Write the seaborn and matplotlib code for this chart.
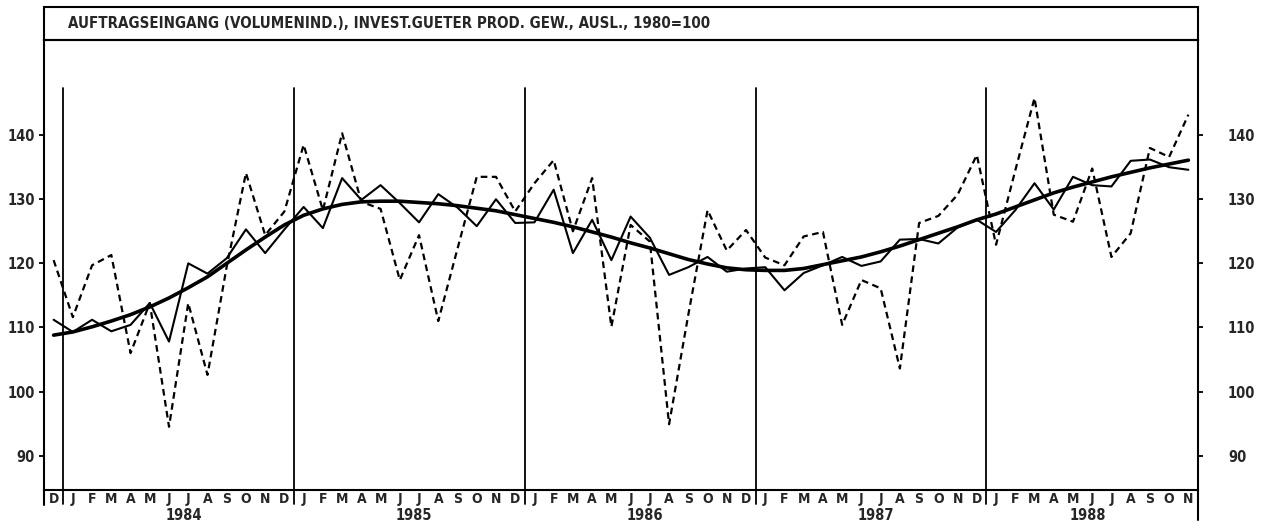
import numpy as np
import pandas as pd
import matplotlib
matplotlib.use("Agg")
import matplotlib.pyplot as plt
import seaborn as sns
from matplotlib.transforms import blended_transform_factory
from matplotlib.lines import Line2D
from matplotlib.patches import Rectangle

# ---- data: monthly values Dec 1983 .. Nov 1988 ----
title = "AUFTRAGSEINGANG (VOLUMENIND.), INVEST.GUETER PROD. GEW., AUSL., 1980=100"
years = ["1984", "1985", "1986", "1987", "1988"]
month_labels = ["D"] + list("JFMAMJJASOND") * 4 + list("JFMAMJJASON")
y_ticks = [90, 100, 110, 120, 130, 140]

# original series (dashed)
original = [120.5,
            111.6, 119.7, 121.3, 106.0, 113.8, 94.5, 113.8, 102.6, 119.5, 134.1, 124.4, 128.1,
            138.5, 128.3, 140.3, 129.6, 128.5, 117.4, 124.4, 111.0, 122.3, 133.5, 133.5, 128.1,
            132.5, 136.1, 125.0, 133.3, 110.1, 126.0, 123.4, 94.9, 112.0, 128.3, 122.0, 125.2,
            120.9, 119.7, 124.2, 124.9, 110.4, 117.4, 116.1, 103.6, 126.3, 127.4, 130.7, 136.9,
            122.9, 134.5, 145.8, 127.6, 126.5, 134.8, 121.0, 124.7, 138.0, 136.6, 143.2]

# smoothed component (thin solid)
smoothed = [111.2,
            109.3, 111.2, 109.4, 110.4, 113.8, 107.8, 120.0, 118.4, 120.8, 125.3, 121.6, 125.3,
            128.8, 125.5, 133.3, 129.9, 132.2, 129.4, 126.4, 130.8, 128.7, 125.8, 130.0, 126.3,
            126.4, 131.5, 121.6, 126.8, 120.5, 127.3, 124.0, 118.2, 119.4, 121.0, 118.7, 119.2,
            119.4, 115.8, 118.5, 119.7, 121.0, 119.6, 120.3, 123.7, 123.8, 123.1, 125.6, 126.8,
            124.9, 128.3, 132.5, 128.4, 133.5, 132.2, 132.0, 136.0, 136.2, 135.0, 134.6]

# trend-cycle (thick solid)
trend = [108.8,
         109.3, 110.1, 111.0, 112.0, 113.2, 114.6, 116.2, 117.9, 120.0, 122.1, 124.1, 126.0,
         127.5, 128.5, 129.2, 129.6, 129.7, 129.7, 129.5, 129.3, 129.0, 128.6, 128.2, 127.6,
         127.0, 126.4, 125.7, 124.9, 124.1, 123.2, 122.4, 121.5, 120.6, 119.9, 119.3, 119.0,
         118.9, 118.9, 119.2, 119.8, 120.4, 121.0, 121.8, 122.7, 123.7, 124.7, 125.7, 126.8,
         127.7, 128.8, 129.9, 131.0, 131.9, 132.7, 133.5, 134.2, 134.9, 135.5, 136.1]

sns.set_style("white")
plt.rcParams["font.family"] = ["DejaVu Sans"]
plt.rcParams["font.weight"] = "bold"
plt.rcParams["font.stretch"] = "condensed"

W, H = 1266, 524
fig = plt.figure(figsize=(W / 100, H / 100), dpi=100)
fig.patch.set_facecolor("white")

x_left, x_right = 44, 1198
y_top, y_bottom = 40, 489.6
ax = fig.add_axes([x_left / W, (H - y_bottom) / H, (x_right - x_left) / W, (y_bottom - y_top) / H])

df = pd.DataFrame({
    "monat": np.arange(len(original)),
    "original": original,
    "smoothed": smoothed,
    "trend": trend,
})

sns.lineplot(data=df, x="monat", y="original", ax=ax, color="black",
             linewidth=1.6, linestyle=(0, (3.0, 2.0)))
sns.lineplot(data=df, x="monat", y="smoothed", ax=ax, color="black", linewidth=1.5)
sns.lineplot(data=df, x="monat", y="trend", ax=ax, color="black", linewidth=2.6)

ax.set_xlim(-0.5, len(original) - 0.5)
ax.set_ylim(84.7, 154.85)
ax.set_xlabel("")
ax.set_ylabel("")

for s in ax.spines.values():
    s.set_linewidth(1.5)
    s.set_color("black")

# year boundary lines inside the plot
boundaries = [0.5 + 12 * k for k in range(len(years))]
for b in boundaries:
    ax.axvline(b, ymin=0, ymax=0.894, color="black", linewidth=1.3)

# month letters and separators
ax.set_xticks(np.arange(len(month_labels)))
ax.set_xticklabels(month_labels, fontsize=10, fontweight="bold")
ax.tick_params(axis="x", which="major", length=0, pad=1.5)
ax.set_xticks(np.arange(-0.5, len(month_labels), 1.0), minor=True)
ax.tick_params(axis="x", which="minor", direction="out", length=6, width=1.3, color="black")

# left value axis
ax.set_yticks(y_ticks)
ax.set_yticklabels([str(v) for v in y_ticks], fontsize=10.5, fontweight="bold")
ax.tick_params(axis="y", direction="out", length=3.6, width=1.3, pad=3, color="black")

# right value axis
ax2 = ax.twinx()
ax2.set_ylim(ax.get_ylim())
ax2.set_yticks(y_ticks)
ax2.set_yticklabels([str(v) for v in y_ticks], fontsize=10.5, fontweight="bold")
ax2.tick_params(axis="y", direction="out", length=3.6, width=1.3, pad=18, color="black")
for s in ax2.spines.values():
    s.set_visible(False)

# longer separators at year boundaries below the axis
tr = blended_transform_factory(ax.transData, fig.transFigure)
for b in boundaries:
    fig.add_artist(Line2D([b, b], [(H - y_bottom) / H, (H - 504) / H],
                          transform=tr, color="black", linewidth=1.3))

# frame extensions below the axis
fig.add_artist(Line2D([x_left / W, x_left / W], [(H - y_bottom) / H, (H - 505) / H],
                      color="black", linewidth=1.5))
fig.add_artist(Line2D([x_right / W, x_right / W], [(H - y_bottom) / H, (H - 520) / H],
                      color="black", linewidth=1.5))

# year labels
year_pos = [6.75, 18.75, 30.75, 42.75, 53.75]
for yr, xp in zip(years, year_pos):
    fig.text(xp, (H - 519.5) / H, yr, transform=tr, ha="center", va="baseline",
             fontsize=10.5, fontweight="bold")

# title box
fig.add_artist(Rectangle((x_left / W, (H - y_top) / H), (x_right - x_left) / W, (y_top - 7.3) / H,
                         transform=fig.transFigure, fill=False, edgecolor="black", linewidth=1.5))
fig.text(68 / W, (H - 23.5) / H, title, ha="left", va="center", fontsize=10.8, fontweight="bold")

fig.savefig("out.png", dpi=100, facecolor="white")
